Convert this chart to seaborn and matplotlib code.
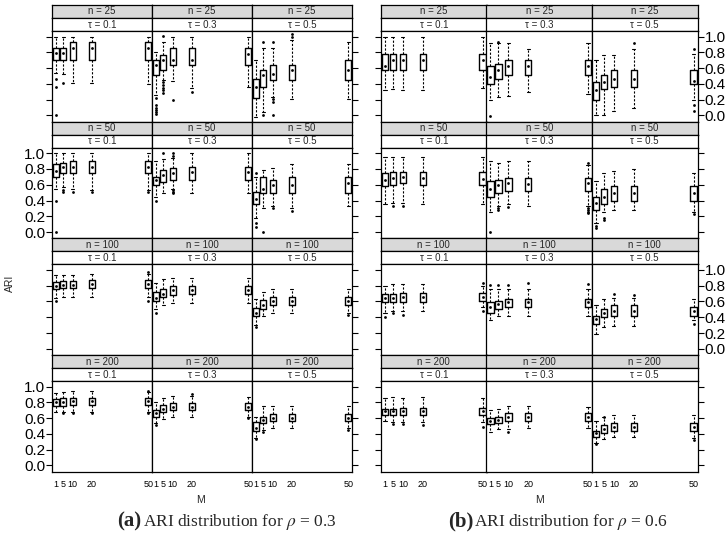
import numpy as np
import pandas as pd
import matplotlib
matplotlib.use('Agg')
import matplotlib.pyplot as plt
import seaborn as sns

# ---- data (5-number summaries per box) ----
M_values = [1, 5, 10, 20, 50]
n_labels = ['25', '50', '100', '200']
tau_labels = ['0.1', '0.3', '0.5']
rho_labels = ['0.3', '0.6']

# rho = 0.3 ; rows ordered (n, tau): n=25 tau .1/.3/.5, n=50 ..., 5 values per row (M)
lo_a = [
    [0.54, 0.53, 0.41, 0.41, 0.40], [0.26, 0.45, 0.44, 0.35, 0.36], [-0.02, 0.04, 0.23, 0.21, 0.21],
    [0.55, 0.57, 0.55, 0.53, 0.53], [0.44, 0.49, 0.55, 0.49, 0.49], [0.18, 0.31, 0.33, 0.31, 0.33],
    [0.65, 0.66, 0.66, 0.66, 0.66], [0.50, 0.56, 0.58, 0.58, 0.58], [0.30, 0.42, 0.46, 0.46, 0.46],
    [0.68, 0.68, 0.68, 0.68, 0.68], [0.54, 0.59, 0.62, 0.62, 0.62], [0.35, 0.45, 0.47, 0.47, 0.47],
]
q1_a = [
    [0.70, 0.70, 0.70, 0.70, 0.70], [0.51, 0.57, 0.64, 0.64, 0.64], [0.22, 0.36, 0.45, 0.45, 0.45],
    [0.70, 0.75, 0.75, 0.75, 0.75], [0.60, 0.64, 0.66, 0.66, 0.66], [0.36, 0.49, 0.49, 0.49, 0.49],
    [0.76, 0.77, 0.77, 0.77, 0.77], [0.60, 0.66, 0.68, 0.69, 0.69], [0.41, 0.51, 0.55, 0.55, 0.55],
    [0.75, 0.76, 0.77, 0.77, 0.77], [0.62, 0.68, 0.70, 0.70, 0.70], [0.44, 0.54, 0.56, 0.56, 0.56],
]
med_a = [
    [0.79, 0.79, 0.86, 0.86, 0.86], [0.64, 0.70, 0.70, 0.70, 0.78], [0.36, 0.51, 0.53, 0.57, 0.57],
    [0.78, 0.82, 0.82, 0.82, 0.82], [0.66, 0.73, 0.75, 0.76, 0.76], [0.42, 0.55, 0.60, 0.60, 0.62],
    [0.80, 0.81, 0.81, 0.82, 0.82], [0.65, 0.70, 0.74, 0.74, 0.74], [0.46, 0.56, 0.60, 0.60, 0.60],
    [0.80, 0.81, 0.82, 0.82, 0.82], [0.66, 0.72, 0.74, 0.74, 0.74], [0.48, 0.58, 0.60, 0.60, 0.60],
]
q3_a = [
    [0.85, 0.85, 0.93, 0.93, 0.93], [0.70, 0.77, 0.85, 0.85, 0.85], [0.46, 0.57, 0.64, 0.64, 0.70],
    [0.86, 0.88, 0.90, 0.90, 0.90], [0.70, 0.79, 0.81, 0.83, 0.83], [0.51, 0.70, 0.66, 0.70, 0.70],
    [0.85, 0.86, 0.86, 0.87, 0.87], [0.72, 0.76, 0.80, 0.80, 0.80], [0.52, 0.62, 0.66, 0.66, 0.66],
    [0.84, 0.85, 0.86, 0.86, 0.86], [0.70, 0.77, 0.79, 0.79, 0.79], [0.55, 0.62, 0.65, 0.65, 0.65],
]
hi_a = [
    [1.00, 1.00, 1.00, 1.00, 1.00], [0.80, 0.93, 1.00, 1.00, 1.00], [0.70, 0.85, 0.85, 0.95, 0.93],
    [1.00, 1.00, 1.00, 1.00, 1.00], [0.90, 0.93, 0.94, 1.00, 1.00], [0.70, 0.79, 0.81, 0.86, 0.86],
    [0.93, 0.94, 0.94, 0.95, 0.95], [0.84, 0.88, 0.90, 0.90, 0.90], [0.63, 0.72, 0.76, 0.76, 0.76],
    [0.92, 0.93, 0.94, 0.94, 0.93], [0.80, 0.86, 0.88, 0.88, 0.87], [0.62, 0.75, 0.75, 0.75, 0.75],
]
# outliers: (row, M, value)
out_a = [
    (0, 1, 0.46), (0, 1, 0.36), (0, 1, 0.0), (0, 5, 0.41),
    (1, 1, 0.22), (1, 1, 0.13), (1, 1, 0.10), (1, 1, 0.07), (1, 1, 0.04), (1, 1, 0.02),
    (1, 5, 1.01), (1, 5, 0.42), (1, 5, 0.38), (1, 5, 0.35), (1, 5, 0.32), (1, 5, 0.29),
    (1, 10, 0.20), (1, 20, 0.30),
    (2, 5, 0.93), (2, 5, 0.01), (2, 10, 0.93), (2, 10, 0.21), (2, 10, 0.17), (2, 10, 0.0),
    (2, 20, 1.03), (2, 20, 0.99),
    (3, 1, 0.40), (3, 1, 0.0), (3, 5, 0.53), (3, 5, 0.51), (3, 10, 0.51), (3, 20, 0.51), (3, 50, 0.51),
    (4, 1, 0.40), (4, 5, 1.0), (4, 10, 1.0), (4, 10, 0.97), (4, 10, 0.53), (4, 10, 0.51), (4, 10, 0.49),
    (5, 1, 0.75), (5, 1, 0.12), (5, 1, 0.07), (5, 5, 0.0), (5, 10, 0.31), (5, 20, 0.27),
    (6, 1, 0.60), (6, 50, 0.97), (6, 50, 0.60), (7, 1, 0.46), (8, 1, 0.27), (8, 50, 0.43),
    (9, 5, 0.66), (9, 10, 0.66), (9, 20, 0.66), (9, 50, 0.95), (9, 50, 0.66),
    (10, 1, 0.51), (10, 20, 0.91), (10, 50, 0.60),
    (11, 1, 0.33), (11, 5, 0.43), (11, 50, 0.45),
]

# rho = 0.6
lo_b = [
    [0.32, 0.34, 0.32, 0.32, 0.35], [0.19, 0.23, 0.25, 0.30, 0.27], [0.00, 0.01, 0.06, 0.10, 0.19],
    [0.35, 0.37, 0.37, 0.35, 0.35], [0.25, 0.33, 0.35, 0.33, 0.33], [0.12, 0.25, 0.28, 0.28, 0.25],
    [0.46, 0.48, 0.48, 0.48, 0.53], [0.36, 0.42, 0.42, 0.42, 0.42], [0.19, 0.27, 0.29, 0.29, 0.36],
    [0.56, 0.55, 0.55, 0.55, 0.55], [0.42, 0.46, 0.46, 0.47, 0.48], [0.29, 0.33, 0.36, 0.36, 0.35],
]
q1_b = [
    [0.57, 0.57, 0.57, 0.57, 0.57], [0.40, 0.46, 0.51, 0.51, 0.51], [0.19, 0.34, 0.36, 0.36, 0.40],
    [0.58, 0.60, 0.62, 0.60, 0.60], [0.45, 0.50, 0.52, 0.52, 0.52], [0.28, 0.36, 0.40, 0.40, 0.40],
    [0.59, 0.59, 0.59, 0.59, 0.61], [0.46, 0.50, 0.53, 0.53, 0.53], [0.32, 0.40, 0.42, 0.42, 0.42],
    [0.64, 0.64, 0.64, 0.64, 0.64], [0.52, 0.54, 0.56, 0.56, 0.56], [0.36, 0.41, 0.44, 0.44, 0.44],
]
med_b = [
    [0.63, 0.70, 0.70, 0.70, 0.70], [0.49, 0.57, 0.63, 0.63, 0.63], [0.32, 0.42, 0.46, 0.46, 0.44],
    [0.66, 0.68, 0.70, 0.68, 0.67], [0.55, 0.60, 0.62, 0.61, 0.62], [0.37, 0.45, 0.50, 0.50, 0.50],
    [0.65, 0.65, 0.66, 0.66, 0.66], [0.53, 0.57, 0.59, 0.59, 0.59], [0.38, 0.46, 0.48, 0.48, 0.48],
    [0.69, 0.69, 0.69, 0.69, 0.69], [0.56, 0.58, 0.61, 0.61, 0.61], [0.41, 0.46, 0.49, 0.49, 0.49],
]
q3_b = [
    [0.78, 0.78, 0.78, 0.78, 0.78], [0.63, 0.65, 0.70, 0.70, 0.70], [0.42, 0.51, 0.57, 0.57, 0.57],
    [0.75, 0.76, 0.76, 0.76, 0.76], [0.65, 0.66, 0.68, 0.68, 0.68], [0.45, 0.55, 0.58, 0.58, 0.58],
    [0.69, 0.69, 0.71, 0.71, 0.71], [0.59, 0.61, 0.63, 0.63, 0.63], [0.42, 0.50, 0.55, 0.55, 0.53],
    [0.72, 0.72, 0.73, 0.73, 0.73], [0.60, 0.62, 0.66, 0.66, 0.66], [0.44, 0.51, 0.54, 0.54, 0.54],
]
hi_b = [
    [1.00, 1.00, 1.00, 1.00, 1.00], [0.92, 0.92, 0.92, 0.84, 0.92], [0.70, 0.77, 0.77, 0.84, 0.78],
    [0.95, 0.95, 0.95, 0.95, 0.95], [0.90, 0.88, 0.90, 0.90, 0.85], [0.65, 0.75, 0.78, 0.80, 0.75],
    [0.80, 0.82, 0.82, 0.82, 0.80], [0.76, 0.76, 0.76, 0.76, 0.76], [0.55, 0.63, 0.65, 0.65, 0.63],
    [0.85, 0.87, 0.85, 0.87, 0.85], [0.70, 0.72, 0.75, 0.76, 0.74], [0.57, 0.61, 0.64, 0.64, 0.64],
]
out_b = [
    (1, 1, -0.01), (1, 5, 0.93), (2, 20, 0.92), (2, 50, 0.84), (2, 50, 0.13), (2, 50, 0.06),
    (3, 5, 0.33), (3, 10, 0.33),
    (4, 1, 0.0), (4, 5, 0.30), (4, 5, 0.28), (4, 10, 0.32), (4, 50, 0.88), (4, 50, 0.30),
    (4, 50, 0.28), (4, 50, 0.26), (4, 50, 0.24),
    (5, 1, 0.08), (5, 1, 0.05), (5, 5, 0.18), (5, 5, 0.15), (5, 50, 0.23),
    (6, 1, 0.40), (6, 5, 0.45), (6, 10, 0.43), (6, 50, 0.84), (6, 50, 0.48),
    (7, 1, 0.81), (7, 5, 0.81), (7, 10, 0.81), (7, 20, 0.84), (7, 50, 0.82),
    (8, 10, 0.69), (8, 20, 0.68), (8, 50, 0.32),
    (9, 5, 0.52), (9, 10, 0.52), (9, 20, 0.51), (9, 50, 0.49),
    (10, 10, 0.43), (11, 1, 0.27), (11, 5, 0.61), (11, 50, 0.32),
]

panels = {
    '0.3': (lo_a, q1_a, med_a, q3_a, hi_a, out_a),
    '0.6': (lo_b, q1_b, med_b, q3_b, hi_b, out_b),
}

# ---- layout (pixels) ----
W, H = 728, 538
sns.set_theme(style='white')
plt.rcParams['font.family'] = ['Liberation Sans', 'DejaVu Sans']
plt.rcParams['mathtext.fontset'] = 'stix'
fig = plt.figure(figsize=(W / 100, H / 100), dpi=100)


def px_axes(x, y, w, h):
    return fig.add_axes([x / W, 1 - (y + h) / H, w / W, h / H])


panel_x = {'0.3': (52, 100.0), '0.6': (381, 105.5)}
row_step = 116.7
strip_h = 13.0
plot_h = 90.7
lw = 0.9

for rho in rho_labels:
    lo, q1, med, q3, hi, outs = panels[rho]
    x0, cw = panel_x[rho]
    for r, n in enumerate(n_labels):
        for c, tau in enumerate(tau_labels):
            k = r * 3 + c
            x = x0 + c * cw
            ytop = 5 + r * row_step

            # strips
            for j, (txt, fc) in enumerate([(f'n = {n}', '#d9d9d9'), (f'τ = {tau}', 'white')]):
                sax = px_axes(x, ytop + j * strip_h, cw, strip_h)
                sax.set_facecolor(fc)
                sax.set_xticks([])
                sax.set_yticks([])
                for sp in sax.spines.values():
                    sp.set_linewidth(lw)
                    sp.set_color('black')
                sax.text(0.5, 0.5, txt, ha='center', va='center', fontsize=7,
                         transform=sax.transAxes)

            ax = px_axes(x, ytop + 2 * strip_h, cw, plot_h)
            recs = []
            for i, m in enumerate(M_values):
                for v in (lo[k][i], q1[k][i], med[k][i], q3[k][i], hi[k][i]):
                    recs.append({'M': m, 'ARI': v})
            df = pd.DataFrame(recs)
            sns.boxplot(data=df, x='M', y='ARI', native_scale=True, whis=(0, 100),
                        width=0.8, fill=False, color='black', linewidth=1.0,
                        showfliers=False, medianprops={'visible': False},
                        whiskerprops={'linestyle': (0, (2, 1.5)), 'linewidth': 0.8},
                        capprops={'linewidth': 0.8}, ax=ax)
            ax.scatter(M_values, med[k], s=4, color='black', zorder=3, linewidths=0)
            ox = [m for (rr, m, v) in outs if rr == k]
            oy = [v for (rr, m, v) in outs if rr == k]
            if ox:
                ax.scatter(ox, oy, s=4, color='black', zorder=3, linewidths=0)

            ax.set_xlim(1 - 1.96, 50 + 1.96)
            ax.set_ylim(-0.08, 1.07)
            ax.set_xlabel('')
            ax.set_ylabel('')
            for sp in ax.spines.values():
                sp.set_linewidth(lw)
                sp.set_color('black')
            ax.set_facecolor('white')

            ax.set_yticks(np.arange(0, 1.01, 0.2))
            ax.set_yticklabels([f'{v:.1f}' for v in np.arange(0, 1.01, 0.2)])
            left_lab = rho == '0.3' and c == 0 and r in (1, 3)
            right_lab = rho == '0.6' and c == 2 and r in (0, 2)
            ax.tick_params(axis='y', which='both', direction='out', length=4, width=0.8,
                           colors='black', labelsize=11, pad=1,
                           left=(c == 0), right=(c == 2),
                           labelleft=left_lab, labelright=right_lab)
            if r == 3:
                ax.set_xticks(M_values)
                ax.set_xticklabels([str(m) for m in M_values])
                ax.tick_params(axis='x', length=0, labelsize=6.5, pad=6, colors='black')
            else:
                ax.set_xticks([])

# axis titles and captions
fig.text(200 / W, 1 - 500 / H, 'M', ha='center', va='center', fontsize=7.5)
fig.text(540 / W, 1 - 500 / H, 'M', ha='center', va='center', fontsize=7.5)
fig.text(10 / W, 1 - 283 / H, 'ARI', ha='center', va='center', fontsize=7.5, rotation=90)

cap_font = ['Liberation Serif', 'DejaVu Serif']
fig.text(117 / W, 1 - 521 / H, '(a)', ha='left', va='center', fontsize=15,
         fontweight='bold', family=cap_font)
fig.text(143 / W, 1 - 522 / H, r'ARI distribution for $\rho$ = 0.3', ha='left',
         va='center', fontsize=12.5, family=cap_font)
fig.text(448 / W, 1 - 521 / H, '(b)', ha='left', va='center', fontsize=15,
         fontweight='bold', family=cap_font)
fig.text(474 / W, 1 - 522 / H, r'ARI distribution for $\rho$ = 0.6', ha='left',
         va='center', fontsize=12.5, family=cap_font)

fig.savefig('out.png', dpi=100, facecolor='white')
